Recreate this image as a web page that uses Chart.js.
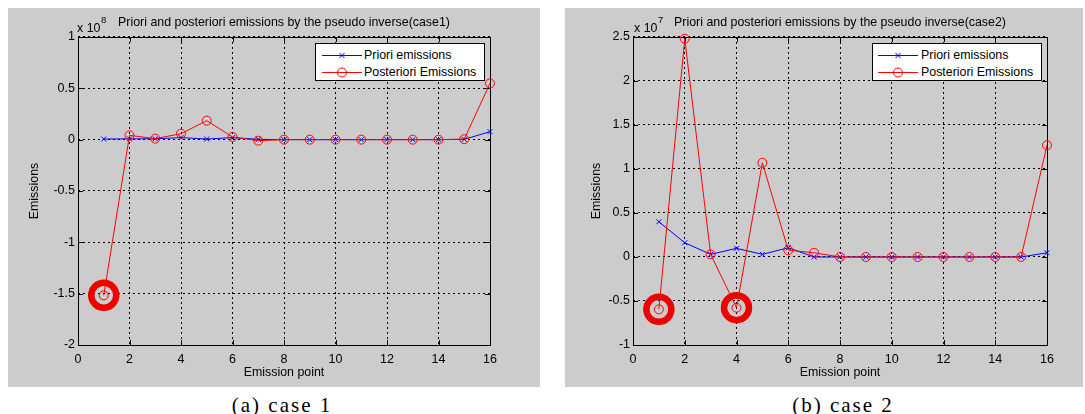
<!DOCTYPE html>
<html>
<head>
<meta charset="utf-8">
<script src="https://cdn.jsdelivr.net/npm/chart.js@4.4.1/dist/chart.umd.min.js"></script>
<style>
html,body{margin:0;padding:0;background:#fff;}
body{width:1085px;height:414px;position:relative;overflow:hidden;font-family:'Liberation Sans',Arial,sans-serif;}
.panel{position:absolute;background:#cccccc;}
.panel canvas{position:absolute;left:0;top:0;}
.txt{position:absolute;white-space:nowrap;color:#000;}
.legend{position:absolute;background:#fff;border:1px solid #000;box-sizing:border-box;}
.legend .row{position:absolute;left:0;height:16px;line-height:16px;font-size:12.4px;white-space:nowrap;}
.legend svg{position:absolute;left:0;top:0;}
.legend .lbl{position:absolute;top:0;}
.caption{position:absolute;font-family:'Liberation Serif','Times New Roman',serif;font-size:21px;letter-spacing:2px;color:#000;text-align:center;width:300px;height:24px;line-height:24px;}
</style>
</head>
<body>
<div class="panel" id="p1" style="left:8px;top:8px;width:532px;height:379px;"><canvas id="c1" width="532" height="379"></canvas></div>
<div class="panel" id="p2" style="left:565px;top:8px;width:518px;height:379px;"><canvas id="c2" width="518" height="379"></canvas></div>
<script>
// ---------------- data ----------------
const emissionPoints = [1, 2, 3, 4, 5, 6, 7, 8, 9, 10, 11, 12, 13, 14, 15, 16];
const xTickValues = [0, 2, 4, 6, 8, 10, 12, 14, 16];
const seriesLabels = ['Priori emissions', 'Posteriori Emissions'];
const axisTitleX = 'Emission point';
const axisTitleY = 'Emissions';

// case 1 (values in units of 1e8)
const case1Title = 'Priori and posteriori emissions by the pseudo inverse(case1)';
const case1Exponent = '8';
const case1YTicks = [-2, -1.5, -1, -0.5, 0, 0.5, 1];
const case1Priori = [0.006, 0.008, 0.008, 0.02, 0.006, 0.02, 0.003, 0, 0, 0, 0, 0, 0, 0, 0.003, 0.078];
const case1Posteriori = [-1.516, 0.042, 0.01, 0.058, 0.185, 0.026, -0.01, 0, 0, 0, 0, 0, 0, 0, 0.005, 0.548];
const case1Circled = [1];
const case1Caption = '(a) case 1';

// case 2 (values in units of 1e7)
const case2Title = 'Priori and posteriori emissions by the pseudo inverse(case2)';
const case2Exponent = '7';
const case2YTicks = [-1, -0.5, 0, 0.5, 1, 1.5, 2, 2.5];
const case2Priori = [0.40, 0.162, 0.03, 0.098, 0.03, 0.105, 0.0, 0, 0, 0, 0, 0, 0, 0, 0.0, 0.048];
const case2Posteriori = [-0.595, 2.48, 0.03, -0.576, 1.07, 0.078, 0.048, 0, 0, 0, 0, 0, 0, 0, 0, 1.27];
const case2Circled = [1, 4];
const case2Caption = '(b) case 2';

// ---------------- styling / layout ----------------
const FONT = "'Liberation Sans', Arial, sans-serif";
const BLUE = '#0000ff', RED = '#ff0000', RING = '#ee0000';

const frameTicks = {
  id: 'frameTicks',
  beforeDatasetsDraw(chart) {
    const {ctx, chartArea: {left, right, top, bottom}, scales: {x, y}} = chart;
    ctx.save();
    ctx.setLineDash([]);
    ctx.strokeStyle = '#000';
    ctx.lineWidth = 1;
    const L = 5;
    ctx.beginPath();
    x.ticks.forEach(t => {
      const px = Math.round(x.getPixelForValue(t.value)) + 0.5;
      ctx.moveTo(px, bottom); ctx.lineTo(px, bottom - L);
      ctx.moveTo(px, top); ctx.lineTo(px, top + L);
    });
    y.ticks.forEach(t => {
      const py = Math.round(y.getPixelForValue(t.value)) + 0.5;
      ctx.moveTo(left, py); ctx.lineTo(left + L, py);
      ctx.moveTo(right, py); ctx.lineTo(right - L, py);
    });
    ctx.stroke();
    ctx.strokeRect(Math.round(left) + 0.5, Math.round(top) + 0.5, Math.round(right - left), Math.round(bottom - top));
    ctx.restore();
  }
};

function xy(values) { return values.map((v, i) => ({x: emissionPoints[i], y: v})); }

function makeChart(canvasId, cfg) {
  const ticksFont = {family: FONT, size: 12.5, weight: 'normal'};
  const titleFont = {family: FONT, size: 12.4, weight: 'normal'};
  return new Chart(document.getElementById(canvasId), {
    type: 'line',
    data: {
      datasets: [
        {label: seriesLabels[1], data: xy(cfg.post), borderColor: RED, backgroundColor: 'transparent', borderWidth: 1,
         pointStyle: 'circle', pointRadius: 4.5, pointBorderWidth: 1, pointBorderColor: RED, pointBackgroundColor: 'transparent',
         order: 1, clip: false, tension: 0},
        {label: seriesLabels[0], data: xy(cfg.priori), borderColor: BLUE, backgroundColor: 'transparent', borderWidth: 1,
         pointStyle: 'crossRot', pointRadius: 3.5, pointBorderWidth: 1, pointBorderColor: BLUE, pointBackgroundColor: 'transparent',
         order: 2, clip: false, tension: 0},
        {label: 'circled', data: cfg.circled.map(p => ({x: p, y: cfg.post[emissionPoints.indexOf(p)]})), showLine: false,
         pointStyle: 'circle', pointRadius: 12.5, pointBorderWidth: 6.5, pointBorderColor: RING, pointBackgroundColor: 'transparent',
         order: 3, clip: false}
      ]
    },
    options: {
      responsive: false, animation: false, devicePixelRatio: 1,
      layout: {padding: {left: 0, right: cfg.padRight, top: 0, bottom: 0}},
      plugins: {
        legend: {display: false}, tooltip: {enabled: false},
        title: {display: true, text: cfg.title, fullSize: false, color: '#000', font: titleFont, padding: {top: 7.3, bottom: 6.8}}
      },
      scales: {
        x: {
          type: 'linear', min: 0, max: 16,
          afterBuildTicks: s => { s.ticks = xTickValues.map(v => ({value: v})); },
          ticks: {color: '#000', font: ticksFont, padding: 7, maxRotation: 0, autoSkip: false},
          grid: {color: '#000', lineWidth: 1, drawTicks: false},
          border: {display: false, dash: [2, 3]},
          title: {display: true, text: axisTitleX, color: '#000', font: titleFont, padding: {top: 0, bottom: 7}},
          afterFit: s => { s.height = 42; }
        },
        y: {
          type: 'linear', min: cfg.yTicks[0], max: cfg.yTicks[cfg.yTicks.length - 1],
          afterBuildTicks: s => { s.ticks = cfg.yTicks.map(v => ({value: v})); },
          ticks: {color: '#000', font: ticksFont, padding: 3, autoSkip: false, callback: v => String(v)},
          grid: {color: '#000', lineWidth: 1, drawTicks: false},
          border: {display: false, dash: [2, 3]},
          title: {display: true, text: axisTitleY, color: '#000', font: titleFont, padding: {top: cfg.yTitlePad, bottom: 0}},
          afterFit: s => { s.width = cfg.yWidth; }
        }
      }
    },
    plugins: [frameTicks]
  });
}

function addText(text, left, top, size, extra) {
  const d = document.createElement('div');
  d.className = 'txt';
  d.textContent = text;
  d.style.left = left + 'px'; d.style.top = top + 'px';
  d.style.fontSize = size + 'px'; d.style.lineHeight = '14px';
  if (extra) Object.assign(d.style, extra);
  document.body.appendChild(d);
}

function markerSvg(kind, color) {
  const ns = 'http://www.w3.org/2000/svg';
  const svg = document.createElementNS(ns, 'svg');
  svg.setAttribute('width', '42'); svg.setAttribute('height', '16');
  const line = document.createElementNS(ns, 'line');
  line.setAttribute('x1', '0'); line.setAttribute('x2', '40'); line.setAttribute('y1', '8.5'); line.setAttribute('y2', '8.5');
  line.setAttribute('stroke', color); line.setAttribute('stroke-width', '1');
  svg.appendChild(line);
  if (kind === 'circle') {
    const c = document.createElementNS(ns, 'circle');
    c.setAttribute('cx', '20'); c.setAttribute('cy', '8.5'); c.setAttribute('r', '4.5');
    c.setAttribute('fill', 'none'); c.setAttribute('stroke', color);
    svg.appendChild(c);
  } else {
    const p = document.createElementNS(ns, 'path');
    p.setAttribute('d', 'M17.5 6 L22.5 11 M22.5 6 L17.5 11');
    p.setAttribute('stroke', color); p.setAttribute('fill', 'none');
    svg.appendChild(p);
  }
  return svg;
}

function addLegend(left, top, width, height, lineX, textX) {
  const box = document.createElement('div');
  box.className = 'legend';
  Object.assign(box.style, {left: left + 'px', top: top + 'px', width: width + 'px', height: height + 'px'});
  const rows = [{label: seriesLabels[0], kind: 'cross', color: BLUE, y: 3}, {label: seriesLabels[1], kind: 'circle', color: RED, y: 20}];
  rows.forEach(r => {
    const row = document.createElement('div');
    row.className = 'row';
    row.style.top = r.y + 'px';
    row.style.width = (width - 2) + 'px';
    const svg = markerSvg(r.kind, r.color);
    svg.style.left = lineX + 'px';
    row.appendChild(svg);
    const l = document.createElement('span');
    l.className = 'lbl';
    l.style.left = textX + 'px';
    l.textContent = r.label;
    row.appendChild(l);
    box.appendChild(row);
  });
  document.body.appendChild(box);
}

function addCaption(text, centerX) {
  const d = document.createElement('div');
  d.className = 'caption';
  d.textContent = text;
  d.style.left = (centerX - 150) + 'px';
  d.style.top = '393px';
  document.body.appendChild(d);
}

makeChart('c1', {title: case1Title, priori: case1Priori, post: case1Posteriori, circled: case1Circled,
  yTicks: case1YTicks, yWidth: 70, padRight: 50, yTitlePad: 19});
makeChart('c2', {title: case2Title, priori: case2Priori, post: case2Posteriori, circled: case2Circled,
  yTicks: case2YTicks, yWidth: 68, padRight: 36, yTitlePad: 24});

// exponent labels
addText('x 10', 77, 21, 12.4);
addText(case1Exponent, 101, 13, 9.5);
addText('x 10', 634, 21, 12.4);
addText(case2Exponent, 658, 13, 9.5);

// legends
addLegend(315, 43, 170, 38, 6, 48);
addLegend(872, 43, 170, 38, 5, 48);

// captions
addCaption(case1Caption, 282);
addCaption(case2Caption, 843);
</script>
</body>
</html>
